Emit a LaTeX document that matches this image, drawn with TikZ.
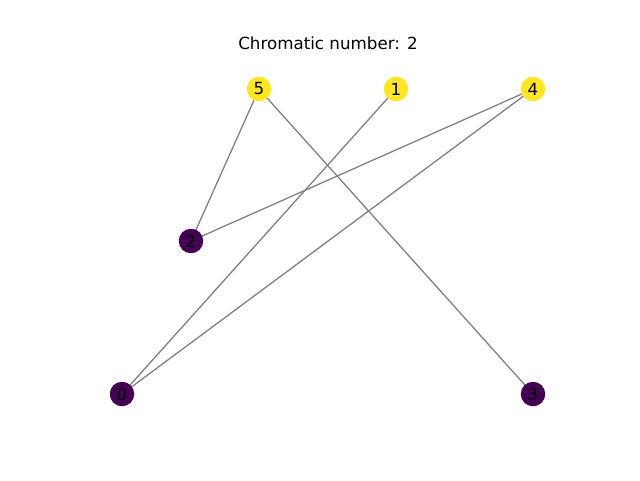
\documentclass[tikz,border=0pt]{standalone}
\usepackage{fontspec}
\setmainfont{DejaVu Sans}
\begin{document}
\begin{tikzpicture}[x=1pt,y=-1pt,
  vtx/.style={circle,minimum size=24.5pt,inner sep=0pt,font=\fontsize{16.7}{20}\selectfont},
  yel/.style={vtx,fill={rgb,255:red,253;green,231;blue,37}},
  pur/.style={vtx,fill={rgb,255:red,68;green,1;blue,84}},
  edge/.style={draw={rgb,255:red,128;green,128;blue,128},line width=1.3pt}]
\useasboundingbox (0,0) rectangle (640,480);
\node[font=\fontsize{16.7}{20}\selectfont] (title) at (328,43) {Chromatic number: 2};
\coordinate (c5) at (259,89);
\coordinate (c1) at (396,89);
\coordinate (c4) at (533,89);
\coordinate (c2) at (191,241);
\coordinate (c0) at (122,394);
\coordinate (c3) at (533,394);
\draw[edge] (c5) -- (c2);
\draw[edge] (c5) -- (c3);
\draw[edge] (c1) -- (c0);
\draw[edge] (c4) -- (c2);
\draw[edge] (c4) -- (c0);
\node[yel] (n5) at (c5) {5};
\node[yel] (n1) at (c1) {1};
\node[yel] (n4) at (c4) {4};
\node[pur] (n2) at (c2) {2};
\node[pur] (n0) at (c0) {0};
\node[pur] (n3) at (c3) {3};
\end{tikzpicture}
\end{document}
